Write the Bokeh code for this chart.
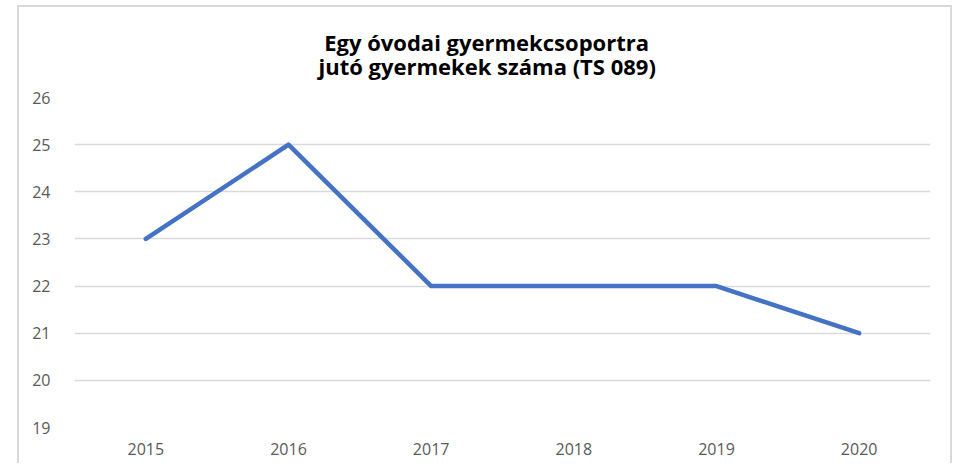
from bokeh.plotting import figure
from bokeh.models import Title, FactorRange, Range1d, FixedTicker
from bokeh.embed import file_html
from bokeh.resources import INLINE

years = ["2015", "2016", "2017", "2018", "2019", "2020"]
values = [23, 25, 22, 22, 22, 21]
y_ticks = [19, 20, 21, 22, 23, 24, 25, 26]
title_lines = ["Egy óvodai gyermekcsoportra", "jutó gyermekek száma (TS 089)"]

p = figure(
    x_range=FactorRange(*years, range_padding=0),
    y_range=Range1d(19, 26),
    width=935, height=458,
    output_backend="svg", toolbar_location=None,
    min_border_left=55, min_border_right=24,
    min_border_top=90, min_border_bottom=38,
    title=None,
)
p.margin = (5, 0, 0, 17)
p.styles = {"border-top": "2px solid #d9d9d9", "border-left": "2px solid #d9d9d9",
            "border-right": "2px solid #d9d9d9", "box-sizing": "border-box"}

# lines are left-aligned inside the block; a no-break space centres the shorter first line
title_text = "\u00a0" + title_lines[0] + "\n" + title_lines[1]
t = Title(text=title_text, align="left", offset=244, text_font="Open Sans",
          text_font_size="22px", text_font_style="bold", text_color="#000000",
          standoff=34, text_line_height=0.8)
p.add_layout(t, "above")

p.line(x=years, y=values, line_color="#4472C4", line_width=4.5, line_join="round", line_cap="round")

p.outline_line_color = None
p.background_fill_color = "white"
p.border_fill_color = "white"

p.xgrid.grid_line_color = None
p.ygrid.grid_line_color = "#d9d9d9"
p.ygrid.grid_line_width = 1.5
p.yaxis.ticker = FixedTicker(ticks=y_ticks)

for ax in (p.xaxis[0], p.yaxis[0]):
    ax.axis_line_color = None
    ax.major_tick_line_color = None
    ax.minor_tick_line_color = None
    ax.major_label_text_font = "Open Sans"
    ax.major_label_text_font_size = "16px"
    ax.major_label_text_color = "#595959"
p.yaxis.major_label_standoff = 18
p.xaxis.major_label_standoff = 9

open("out.html", "w").write(file_html(p, INLINE))
